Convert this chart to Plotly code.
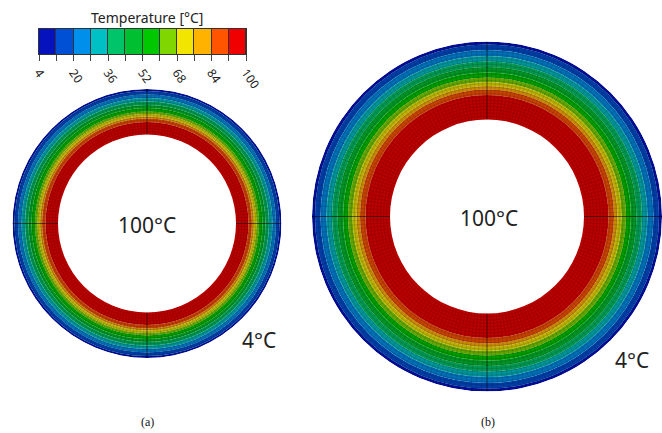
import numpy as np
import plotly.graph_objects as go

# ---------------- data ----------------
TEMP_LEVELS = [4, 12, 20, 28, 36, 44, 52, 60, 68, 76, 84, 92, 100]
TICK_LABELS = ["4", "", "20", "", "36", "", "52", "", "68", "", "84", "", "100"]
BAND_COLORS = ["#0512BE", "#0050D6", "#008FEA", "#00BFC5", "#00C46A", "#00BF30",
               "#00C800", "#7FD600", "#F2E600", "#FFB300", "#FF5500", "#F00000"]
# isotherm radii (outer wall = 4 °C ... inner wall = 100 °C)
RING_A_RADII = [134.5, 132.5, 129.0, 125.5, 122.0, 118.5, 115.5, 112.0, 109.5, 107.0, 105.0, 101.5, 89.0]
RING_B_RADII = [175.0, 172.0, 166.5, 160.5, 155.0, 149.5, 144.0, 139.0, 134.5, 130.5, 127.0, 121.5, 97.0]
INNER_LABEL = "100°C"
OUTER_LABEL = "4°C"
PANEL_LABELS = ["(a)", "(b)"]

W, H = 662, 433
FONT = "Noto Sans"


def darken(hexc, f=0.78):
    h = hexc.lstrip("#")
    r, g, b = int(h[0:2], 16), int(h[2:4], 16), int(h[4:6], 16)
    return "rgb(%d,%d,%d)" % (r * f, g * f, b * f)


fig = go.Figure()

rings = [
    dict(radii=RING_A_RADII, polar="polar", n_r=16, n_t=200),
    dict(radii=RING_B_RADII, polar="polar2", n_r=24, n_t=200),
]

for ring in rings:
    rad = np.array(ring["radii"])
    r_out, r_in = rad[0], rad[-1]
    bases = rad[1:]
    widths = rad[:-1] - rad[1:]
    fig.add_trace(go.Barpolar(
        r=widths, base=bases, theta=[0] * len(widths), width=[360] * len(widths),
        marker=dict(color=[darken(c) for c in BAND_COLORS], line=dict(width=0)),
        subplot=ring["polar"], showlegend=False, hoverinfo="skip"))
    # mesh: radial lines
    rr, tt = [], []
    for th in np.linspace(0, 360, ring["n_t"], endpoint=False):
        rr += [r_in, r_out, None]
        tt += [th, th, None]
    fig.add_trace(go.Scatterpolar(r=rr, theta=tt, mode="lines",
                                  line=dict(color="rgba(0,0,0,0.25)", width=0.5),
                                  subplot=ring["polar"], showlegend=False, hoverinfo="skip"))
    # mesh: circumferential lines
    rr, tt = [], []
    circ = np.linspace(0, 360, 361)
    for rv in np.linspace(r_in, r_out, ring["n_r"] + 1)[1:-1]:
        rr += [rv] * len(circ) + [None]
        tt += list(circ) + [None]
    fig.add_trace(go.Scatterpolar(r=rr, theta=tt, mode="lines",
                                  line=dict(color="rgba(0,0,0,0.25)", width=0.5),
                                  subplot=ring["polar"], showlegend=False, hoverinfo="skip"))
    # symmetry lines
    rr, tt = [], []
    for th in [0, 90, 180, 270]:
        rr += [r_in, r_out, None]
        tt += [th, th, None]
    fig.add_trace(go.Scatterpolar(r=rr, theta=tt, mode="lines",
                                  line=dict(color="rgba(0,0,0,0.6)", width=0.8),
                                  subplot=ring["polar"], showlegend=False, hoverinfo="skip"))

# colour bar drawn as a heatmap
mids = [(a + b) / 2 for a, b in zip(TEMP_LEVELS[:-1], TEMP_LEVELS[1:])]
n = len(BAND_COLORS)
cscale = []
for i, c in enumerate(BAND_COLORS):
    cscale.append([i / n, c])
    cscale.append([(i + 1) / n, c])
fig.add_trace(go.Heatmap(z=[mids], x=TEMP_LEVELS, y=[0, 1], colorscale=cscale,
                         zmin=TEMP_LEVELS[0], zmax=TEMP_LEVELS[-1], showscale=False,
                         xgap=1, hoverinfo="skip"))


def polar_layout(cx, cy, R):
    return dict(
        domain=dict(x=[(cx - R) / W, min((cx + R) / W, 1.0)],
                    y=[(H - cy - R) / H, (H - cy + R) / H]),
        bgcolor="rgba(0,0,0,0)", barmode="overlay",
        radialaxis=dict(range=[0, R], visible=False),
        angularaxis=dict(visible=False),
    )


annotations = [
    dict(x=147 / W, y=1 - 225 / H, text=INNER_LABEL, font=dict(size=21, family=FONT, color="#222")),
    dict(x=489 / W, y=1 - 218 / H, text=INNER_LABEL, font=dict(size=21, family=FONT, color="#222")),
    dict(x=259 / W, y=1 - 340 / H, text=OUTER_LABEL, font=dict(size=21, family=FONT, color="#222")),
    dict(x=632 / W, y=1 - 360 / H, text=OUTER_LABEL, font=dict(size=21, family=FONT, color="#222")),
    dict(x=147 / W, y=1 - 422 / H, text=PANEL_LABELS[0], font=dict(size=12, family="Liberation Serif", color="#111")),
    dict(x=488 / W, y=1 - 422 / H, text=PANEL_LABELS[1], font=dict(size=12, family="Liberation Serif", color="#111")),
    dict(x=147 / W, y=1 - 17 / H, text="Temperature [°C]", font=dict(size=14, family=FONT, color="#222")),
]
for a in annotations:
    a.update(xref="paper", yref="paper", showarrow=False, xanchor="center", yanchor="middle")

fig.update_layout(
    width=W, height=H, margin=dict(l=0, r=0, t=0, b=0, autoexpand=False),
    paper_bgcolor="white", plot_bgcolor="#333333",
    polar=polar_layout(147, 223.5, RING_A_RADII[0]),
    polar2=polar_layout(487, 216.5, RING_B_RADII[0]),
    xaxis=dict(domain=[39 / W, 246 / W], range=[TEMP_LEVELS[0], TEMP_LEVELS[-1]],
               tickmode="array", tickvals=TEMP_LEVELS, ticktext=TICK_LABELS,
               ticks="outside", ticklen=6, tickcolor="#444", tickangle=55,
               tickfont=dict(size=12, family=FONT, color="#222"),
               showgrid=False, zeroline=False, showline=True, mirror=True,
               linecolor="#333", linewidth=1, fixedrange=True, automargin=False),
    yaxis=dict(domain=[(H - 54) / H, (H - 29) / H], range=[0, 1],
               showticklabels=False, showgrid=False, zeroline=False,
               showline=True, mirror=True, linecolor="#333", linewidth=1,
               fixedrange=True, automargin=False),
    annotations=annotations,
    showlegend=False,
)

fig.write_html("out.html")
